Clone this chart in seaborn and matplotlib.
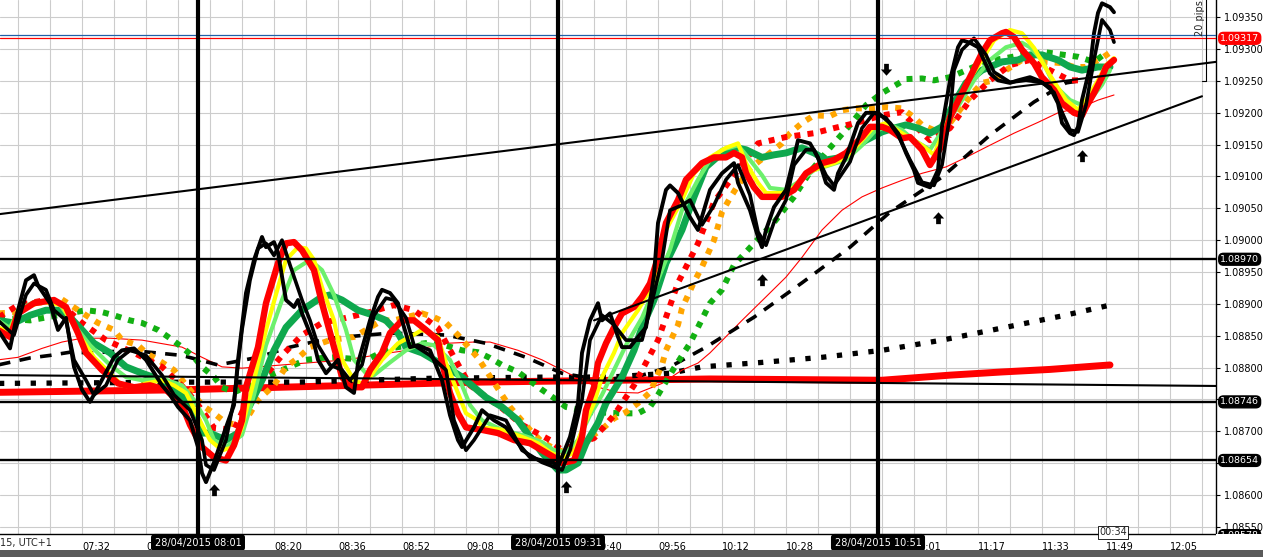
import matplotlib
matplotlib.use("Agg")
import matplotlib.pyplot as plt
import seaborn as sns
from matplotlib.path import Path
from matplotlib.patches import Rectangle

# bar = minutes after 07:00 on 28/04/2015, prices are EUR/USD
fast_bar = [11, 14, 16, 18, 20, 21, 24, 26, 28, 30, 32, 34, 36, 40, 42, 45, 48, 52, 54, 56,
            59, 61, 62, 63, 65, 68, 70, 71, 73, 75, 77, 78, 80, 81, 83, 85, 86, 87, 90, 91,
            93, 96, 98, 100, 101, 104, 106, 107, 109, 111, 112, 114, 116, 119, 122, 124, 126, 127, 130, 132,
            135, 138, 141, 144, 147, 150, 151, 154, 156, 157, 159, 161, 162, 164, 166, 167, 169, 171, 173, 175,
            176, 178, 179, 181, 184, 186, 189, 192, 195, 196, 199, 201, 202, 203, 205, 208, 210, 211, 214, 216,
            218, 220, 221, 223, 226, 228, 231, 234, 236, 238, 240, 241, 244, 246, 247, 249, 251, 252, 254, 256,
            259, 261, 264, 266, 269, 271, 274, 276, 277, 279, 280, 281, 282, 284, 285, 286, 287, 289, 290]
fast_price = [1.08859, 1.08830, 1.08890, 1.08937, 1.08945, 1.08929, 1.08901, 1.08859, 1.08878, 1.08801,
              1.08765, 1.08746, 1.08769, 1.08816, 1.08827, 1.08830, 1.08812, 1.08772, 1.08757, 1.08738,
              1.08717, 1.08675, 1.08634, 1.08620, 1.08651, 1.08706, 1.08741, 1.08812, 1.08917, 1.08969,
              1.09005, 1.08989, 1.08997, 1.08980, 1.08906, 1.08895, 1.08906, 1.08885, 1.08838, 1.08812,
              1.08791, 1.08812, 1.08769, 1.08760, 1.08807, 1.08874, 1.08911, 1.08922, 1.08917, 1.08901,
              1.08874, 1.08832, 1.08835, 1.08827, 1.08780, 1.08725, 1.08686, 1.08675, 1.08706, 1.08733,
              1.08717, 1.08706, 1.08681, 1.08659, 1.08654, 1.08650, 1.08644, 1.08691, 1.08744, 1.08823,
              1.08874, 1.08901, 1.08874, 1.08885, 1.08848, 1.08832, 1.08832, 1.08848, 1.08863, 1.08945,
              1.09027, 1.09079, 1.09086, 1.09074, 1.09036, 1.09016, 1.09079, 1.09105, 1.09121, 1.09090,
              1.09047, 1.09005, 1.08989, 1.09016, 1.09052, 1.09079, 1.09130, 1.09157, 1.09152, 1.09130,
              1.09090, 1.09079, 1.09105, 1.09130, 1.09184, 1.09200, 1.09200, 1.09184, 1.09168, 1.09137,
              1.09110, 1.09090, 1.09083, 1.09110, 1.09178, 1.09251, 1.09303, 1.09314, 1.09310, 1.09303,
              1.09262, 1.09251, 1.09247, 1.09251, 1.09256, 1.09251, 1.09240, 1.09215, 1.09184, 1.09168,
              1.09165, 1.09178, 1.09220, 1.09272, 1.09325, 1.09357, 1.09372, 1.09366, 1.09358]

slow_black_bar = [11, 15, 18, 20, 23, 25, 28, 30, 33, 35, 38, 41, 44, 48, 52, 55, 59, 62, 63, 65,
                  68, 70, 72, 74, 76, 78, 80, 82, 84, 87, 89, 91, 94, 97, 99, 102, 105, 108, 110, 113,
                  115, 119, 123, 125, 128, 130, 134, 138, 142, 147, 152, 154, 157, 159, 162, 165, 168, 172, 174, 177,
                  179, 182, 184, 187, 190, 193, 196, 199, 201, 203, 205, 208, 210, 213, 215, 218, 220, 224, 227, 230,
                  233, 236, 239, 242, 245, 247, 249, 250, 252, 255, 258, 260, 264, 268, 272, 275, 277, 279, 281, 283,
                  285, 287, 289, 290]
slow_black_price = [1.08874, 1.08851, 1.08914, 1.08932, 1.08922, 1.08890, 1.08874, 1.08812, 1.08780, 1.08757,
                    1.08772, 1.08812, 1.08827, 1.08819, 1.08788, 1.08757, 1.08733, 1.08686, 1.08647, 1.08639,
                    1.08686, 1.08749, 1.08859, 1.08937, 1.08987, 1.08995, 1.08976, 1.09000, 1.08961, 1.08906,
                    1.08874, 1.08835, 1.08804, 1.08796, 1.08780, 1.08804, 1.08882, 1.08909, 1.08906, 1.08878,
                    1.08835, 1.08819, 1.08796, 1.08717, 1.08670, 1.08686, 1.08725, 1.08717, 1.08670, 1.08651,
                    1.08639, 1.08670, 1.08749, 1.08843, 1.08882, 1.08867, 1.08843, 1.08843, 1.08890, 1.08969,
                    1.09047, 1.09055, 1.09063, 1.09024, 1.09055, 1.09095, 1.09118, 1.09071, 1.09013, 1.08992,
                    1.09028, 1.09063, 1.09118, 1.09142, 1.09142, 1.09102, 1.09086, 1.09123, 1.09176, 1.09200,
                    1.09192, 1.09165, 1.09126, 1.09091, 1.09086, 1.09118, 1.09196, 1.09267, 1.09299, 1.09317,
                    1.09291, 1.09264, 1.09248, 1.09251, 1.09248, 1.09232, 1.09201, 1.09173, 1.09170, 1.09212,
                    1.09283, 1.09346, 1.09330, 1.09311]

red_bar = [11, 14, 16, 20, 25, 28, 31, 33, 37, 41, 45, 49, 53, 57, 59, 62, 65, 68, 70, 72,
           73, 76, 78, 81, 83, 85, 87, 90, 92, 95, 97, 99, 102, 104, 107, 109, 112, 115, 118, 121,
           122, 124, 126, 128, 132, 136, 140, 144, 147, 150, 152, 155, 157, 158, 160, 161, 163, 165, 167, 170,
           172, 174, 176, 178, 181, 183, 187, 190, 193, 195, 197, 198, 200, 202, 207, 210, 213, 217, 220, 223,
           227, 229, 232, 234, 237, 239, 242, 244, 247, 249, 252, 254, 257, 259, 262, 263, 265, 267, 270, 272,
           275, 277, 280, 282, 283, 285, 287, 288, 290]
red_price = [1.08859, 1.08848, 1.08885, 1.08901, 1.08906, 1.08895, 1.08854, 1.08823, 1.08796, 1.08775,
             1.08769, 1.08772, 1.08765, 1.08741, 1.08710, 1.08675, 1.08659, 1.08654, 1.08678, 1.08717,
             1.08769, 1.08832, 1.08901, 1.08964, 1.08995, 1.08997, 1.08984, 1.08953, 1.08901, 1.08832,
             1.08785, 1.08769, 1.08769, 1.08796, 1.08823, 1.08854, 1.08874, 1.08874, 1.08859, 1.08843,
             1.08807, 1.08760, 1.08728, 1.08706, 1.08702, 1.08697, 1.08686, 1.08681, 1.08670, 1.08659,
             1.08650, 1.08654, 1.08691, 1.08733, 1.08769, 1.08807, 1.08838, 1.08863, 1.08885, 1.08895,
             1.08911, 1.08932, 1.08973, 1.09027, 1.09063, 1.09095, 1.09121, 1.09130, 1.09130, 1.09137,
             1.09130, 1.09105, 1.09083, 1.09068, 1.09068, 1.09079, 1.09105, 1.09121, 1.09126, 1.09137,
             1.09162, 1.09178, 1.09178, 1.09173, 1.09160, 1.09162, 1.09142, 1.09118, 1.09149, 1.09193,
             1.09231, 1.09256, 1.09294, 1.09314, 1.09325, 1.09327, 1.09319, 1.09299, 1.09278, 1.09256,
             1.09236, 1.09215, 1.09200, 1.09196, 1.09209, 1.09231, 1.09256, 1.09272, 1.09283]

yellow_bar = [11, 14, 16, 22, 27, 31, 35, 39, 42, 45, 48, 52, 55, 58, 62, 64, 67, 70, 72, 75,
              78, 81, 83, 86, 88, 90, 92, 95, 97, 100, 102, 104, 107, 111, 114, 117, 121, 123, 126, 128,
              131, 132, 137, 142, 146, 149, 152, 155, 157, 160, 162, 165, 167, 171, 174, 176, 178, 182, 185, 189,
              193, 196, 198, 201, 203, 207, 210, 213, 217, 220, 223, 227, 230, 233, 237, 242, 245, 249, 253, 257,
              260, 264, 267, 270, 274, 278, 281, 283, 286, 288, 290]
yellow_price = [1.08863, 1.08856, 1.08890, 1.08903, 1.08898, 1.08854, 1.08816, 1.08791, 1.08772, 1.08769,
                1.08775, 1.08780, 1.08772, 1.08760, 1.08710, 1.08686, 1.08670, 1.08675, 1.08706, 1.08780,
                1.08859, 1.08926, 1.08969, 1.08989, 1.08987, 1.08969, 1.08926, 1.08874, 1.08812, 1.08780,
                1.08775, 1.08785, 1.08812, 1.08838, 1.08848, 1.08859, 1.08848, 1.08807, 1.08760, 1.08728,
                1.08717, 1.08706, 1.08702, 1.08691, 1.08681, 1.08667, 1.08658, 1.08666, 1.08702, 1.08744,
                1.08785, 1.08823, 1.08854, 1.08890, 1.08922, 1.08953, 1.09016, 1.09063, 1.09105, 1.09130,
                1.09145, 1.09152, 1.09121, 1.09090, 1.09074, 1.09074, 1.09083, 1.09105, 1.09115, 1.09121,
                1.09130, 1.09157, 1.09178, 1.09184, 1.09168, 1.09149, 1.09134, 1.09196, 1.09244, 1.09283,
                1.09314, 1.09330, 1.09325, 1.09302, 1.09259, 1.09220, 1.09205, 1.09220, 1.09251, 1.09275,
                1.09286]

lime_bar = [11, 14, 16, 20, 26, 30, 34, 39, 43, 47, 52, 57, 60, 63, 65, 68, 72, 75, 78, 82,
            85, 89, 92, 95, 98, 100, 103, 105, 109, 113, 117, 120, 124, 127, 129, 132, 137, 142, 147, 150,
            153, 156, 159, 162, 165, 168, 172, 175, 179, 182, 186, 189, 192, 196, 199, 202, 204, 208, 212, 215,
            219, 223, 227, 230, 234, 237, 240, 244, 248, 252, 255, 259, 263, 267, 269, 272, 275, 279, 282, 284,
            287, 289]
lime_price = [1.08874, 1.08862, 1.08890, 1.08903, 1.08903, 1.08867, 1.08835, 1.08804, 1.08785, 1.08780,
              1.08783, 1.08772, 1.08749, 1.08717, 1.08686, 1.08675, 1.08694, 1.08757, 1.08835, 1.08906,
              1.08953, 1.08969, 1.08953, 1.08914, 1.08859, 1.08812, 1.08791, 1.08788, 1.08808, 1.08827,
              1.08838, 1.08835, 1.08812, 1.08772, 1.08741, 1.08717, 1.08702, 1.08694, 1.08683, 1.08670,
              1.08667, 1.08686, 1.08725, 1.08757, 1.08796, 1.08835, 1.08878, 1.08922, 1.08985, 1.09047,
              1.09095, 1.09126, 1.09142, 1.09149, 1.09126, 1.09102, 1.09082, 1.09079, 1.09095, 1.09110,
              1.09118, 1.09126, 1.09149, 1.09170, 1.09181, 1.09173, 1.09157, 1.09142, 1.09181, 1.09220,
              1.09251, 1.09283, 1.09303, 1.09310, 1.09303, 1.09283, 1.09244, 1.09220, 1.09212, 1.09220,
              1.09244, 1.09267]

green_bar = [11, 15, 19, 23, 27, 29, 32, 35, 39, 43, 47, 52, 56, 58, 61, 62, 64, 68, 71, 73,
             77, 80, 83, 87, 92, 94, 97, 101, 105, 108, 111, 113, 117, 120, 123, 127, 130, 133, 137, 141,
             144, 147, 151, 153, 156, 158, 161, 163, 167, 170, 172, 175, 178, 182, 185, 188, 192, 195, 198, 202,
             205, 208, 212, 215, 218, 222, 225, 228, 232, 235, 238, 241, 244, 247, 250, 253, 257, 262, 266, 269,
             272, 276, 279, 282, 286, 289]
green_price = [1.08874, 1.08870, 1.08882, 1.08890, 1.08890, 1.08879, 1.08859, 1.08838, 1.08823, 1.08801,
               1.08791, 1.08780, 1.08761, 1.08749, 1.08717, 1.08697, 1.08697, 1.08686, 1.08697, 1.08728,
               1.08780, 1.08827, 1.08863, 1.08890, 1.08911, 1.08914, 1.08906, 1.08890, 1.08882, 1.08874,
               1.08854, 1.08832, 1.08823, 1.08812, 1.08801, 1.08785, 1.08769, 1.08753, 1.08738, 1.08717,
               1.08691, 1.08666, 1.08639, 1.08639, 1.08650, 1.08681, 1.08713, 1.08744, 1.08785, 1.08827,
               1.08863, 1.08906, 1.08964, 1.09016, 1.09068, 1.09115, 1.09137, 1.09146, 1.09142, 1.09130,
               1.09134, 1.09137, 1.09145, 1.09137, 1.09126, 1.09130, 1.09145, 1.09157, 1.09170, 1.09176,
               1.09181, 1.09176, 1.09168, 1.09178, 1.09215, 1.09247, 1.09267, 1.09280, 1.09283, 1.09291,
               1.09291, 1.09283, 1.09272, 1.09267, 1.09272, 1.09272]

green_dot_bar = [11, 19, 26, 33, 37, 40, 44, 47, 51, 54, 57, 60, 62, 65, 67, 70, 74, 78, 81, 85,
                 88, 92, 95, 103, 109, 114, 120, 127, 131, 134, 137, 141, 147, 150, 153, 159, 167, 171, 174, 176,
                 180, 184, 189, 192, 195, 200, 205, 210, 214, 219, 224, 228, 232, 238, 242, 245, 249, 252, 256, 260,
                 263, 267, 273, 281, 285, 288]
green_dot_price = [1.08878, 1.08874, 1.08882, 1.08890, 1.08887, 1.08882, 1.08874, 1.08870, 1.08859, 1.08846,
                   1.08832, 1.08816, 1.08801, 1.08785, 1.08769, 1.08761, 1.08772, 1.08785, 1.08793, 1.08804,
                   1.08812, 1.08815, 1.08816, 1.08812, 1.08830, 1.08835, 1.08840, 1.08827, 1.08824, 1.08815,
                   1.08804, 1.08793, 1.08765, 1.08752, 1.08738, 1.08730, 1.08728, 1.08728, 1.08738, 1.08757,
                   1.08799, 1.08838, 1.08901, 1.08922, 1.08961, 1.08995, 1.09028, 1.09068, 1.09107, 1.09145,
                   1.09181, 1.09212, 1.09231, 1.09253, 1.09254, 1.09251, 1.09256, 1.09264, 1.09275, 1.09283,
                   1.09286, 1.09291, 1.09295, 1.09288, 1.09280, 1.09294]

orange_dot_bar = [11, 16, 20, 23, 27, 33, 36, 40, 42, 46, 48, 52, 55, 59, 62, 65, 68, 71, 74, 76,
                  80, 83, 86, 89, 94, 100, 107, 110, 113, 117, 120, 123, 126, 131, 137, 139, 144, 147, 150, 153,
                  158, 162, 165, 168, 171, 174, 177, 178, 181, 182, 185, 187, 190, 192, 194, 196, 199, 204, 207, 209,
                  212, 215, 219, 222, 225, 229, 233, 237, 240, 242, 246, 249, 252, 255, 257, 260, 263, 267, 270, 273,
                  277, 280, 283, 287, 290]
orange_dot_price = [1.08885, 1.08887, 1.08901, 1.08903, 1.08907, 1.08882, 1.08870, 1.08859, 1.08843, 1.08835,
                    1.08823, 1.08808, 1.08796, 1.08765, 1.08741, 1.08728, 1.08713, 1.08710, 1.08728, 1.08749,
                    1.08772, 1.08801, 1.08815, 1.08832, 1.08843, 1.08848, 1.08874, 1.08874, 1.08879, 1.08885,
                    1.08879, 1.08870, 1.08851, 1.08815, 1.08757, 1.08738, 1.08702, 1.08683, 1.08673, 1.08666,
                    1.08686, 1.08703, 1.08720, 1.08730, 1.08744, 1.08761, 1.08804, 1.08827, 1.08867, 1.08893,
                    1.08934, 1.08958, 1.09000, 1.09044, 1.09066, 1.09086, 1.09113, 1.09137, 1.09152, 1.09168,
                    1.09184, 1.09196, 1.09195, 1.09204, 1.09207, 1.09207, 1.09209, 1.09207, 1.09193, 1.09181,
                    1.09170, 1.09184, 1.09209, 1.09233, 1.09247, 1.09251, 1.09267, 1.09283, 1.09286, 1.09280,
                    1.09278, 1.09272, 1.09272, 1.09286, 1.09299]

red_dot_bar = [11, 16, 23, 27, 32, 38, 45, 52, 58, 62, 65, 70, 74, 78, 82, 87, 92, 98, 104, 110,
               115, 121, 125, 129, 137, 142, 149, 152, 157, 160, 165, 170, 176, 181, 186, 190, 195, 201, 208, 215,
               220, 226, 232, 237, 240, 244, 249, 254, 259, 264, 269, 274, 279, 284, 289]
red_dot_price = [1.08878, 1.08898, 1.08906, 1.08898, 1.08870, 1.08843, 1.08823, 1.08801, 1.08765, 1.08733,
                 1.08705, 1.08702, 1.08757, 1.08788, 1.08819, 1.08851, 1.08870, 1.08878, 1.08887, 1.08898,
                 1.08890, 1.08862, 1.08816, 1.08772, 1.08736, 1.08710, 1.08686, 1.08670, 1.08683, 1.08689,
                 1.08725, 1.08772, 1.08843, 1.08933, 1.08995, 1.09060, 1.09102, 1.09152, 1.09162, 1.09168,
                 1.09176, 1.09185, 1.09196, 1.09201, 1.09181, 1.09157, 1.09176, 1.09220, 1.09251, 1.09275,
                 1.09283, 1.09267, 1.09251, 1.09251, 1.09259]

dash_bar = [11, 19, 24, 29, 35, 44, 57, 66, 76, 84, 94, 109, 123, 133, 143, 152, 162, 172, 179, 188,
            200, 212, 224, 234, 247, 259, 270, 278, 282]
dash_price = [1.08804, 1.08815, 1.08819, 1.08824, 1.08823, 1.08827, 1.08819, 1.08804, 1.08816, 1.08832,
              1.08846, 1.08854, 1.08851, 1.08838, 1.08816, 1.08791, 1.08780, 1.08788, 1.08801, 1.08832,
              1.08879, 1.08933, 1.08989, 1.09044, 1.09099, 1.09165, 1.09217, 1.09247, 1.09251]

thin_red_bar = [11, 16, 22, 27, 32, 39, 47, 57, 62, 67, 72, 82, 90, 98, 110, 117, 123, 130, 134, 141,
                147, 152, 157, 161, 166, 171, 177, 182, 186, 189, 197, 203, 208, 212, 217, 222, 227, 232, 237, 242,
                248, 253, 258, 265, 271, 276, 282, 286, 290]
thin_red_price = [1.08812, 1.08816, 1.08830, 1.08840, 1.08846, 1.08846, 1.08843, 1.08832, 1.08816, 1.08801,
                  1.08799, 1.08804, 1.08808, 1.08812, 1.08824, 1.08830, 1.08838, 1.08840, 1.08840, 1.08827,
                  1.08812, 1.08796, 1.08780, 1.08769, 1.08761, 1.08760, 1.08775, 1.08796, 1.08807, 1.08823,
                  1.08874, 1.08911, 1.08942, 1.08973, 1.09016, 1.09047, 1.09068, 1.09082, 1.09094, 1.09105,
                  1.09115, 1.09130, 1.09146, 1.09168, 1.09185, 1.09200, 1.09209, 1.09220, 1.09228]

slow_dot_bar = [11, 59, 86, 119, 149, 164, 179, 187, 202, 217, 232, 247, 262, 277, 289]
slow_dot_price = [1.08775, 1.08777, 1.08777, 1.08783, 1.08785, 1.08785, 1.08791, 1.08801, 1.08808, 1.08816,
                  1.08827, 1.08843, 1.08862, 1.08881, 1.08898]

ma_bar = [11, 57, 131, 189, 232, 249, 262, 274, 289]
ma_price = [1.08761, 1.08765, 1.08777, 1.08782, 1.08780, 1.08788, 1.08793, 1.08797, 1.08804]

# drawn objects
level_prices = [1.08970, 1.08746, 1.08654]
upper_trend_bar, upper_trend_price = [11.5, 315.5], [1.09041, 1.09280]
lower_trend_bar, lower_trend_price = [160, 312], [1.08874, 1.09226]
flat_trend_bar, flat_trend_price = [11.5, 315.5], [1.08788, 1.08771]
bid_price, ask_price = 1.09317, 1.09322
marker_bars = [61, 151, 231]
marker_labels = ["28/04/2015 08:01", "28/04/2015 09:31", "28/04/2015 10:51"]
up_arrow_bar = [65, 153, 202, 246, 282]
up_arrow_price = [1.08607, 1.08612, 1.08937, 1.09035, 1.09132]
down_arrow_bar, down_arrow_price = [233], [1.09269]
pips_bar, pips_top, pips_bottom = 313, 1.09450, 1.09250

tick_bars = [32, 48, 64, 80, 96, 112, 128, 144, 160, 176, 192, 208, 224, 240, 256, 272, 288, 304]
tick_labels = ["07:32", "07:48", "", "08:20", "08:36", "08:52", "09:08", "", "09:40",
               "09:56", "10:12", "10:28", "", "11:01", "11:17", "11:33", "11:49", "12:05"]
price_ticks = [1.0855, 1.0860, 1.0865, 1.0870, 1.0875, 1.0880, 1.0885, 1.0890, 1.0895,
               1.0900, 1.0905, 1.0910, 1.0915, 1.0920, 1.0925, 1.0930, 1.0935]
hidden_price_ticks = [1.0865, 1.0875]   # covered by the level tags

sns.set_style("white")
plt.rcParams['font.family'] = ['DejaVu Sans']

fig = plt.figure(figsize=(12.63, 5.57), dpi=100)
ax = fig.add_axes([0, 23 / 557, 1216 / 1263, 534 / 557])


def draw(x, y, color, lw, z, ls='-'):
    sns.lineplot(x=x, y=y, ax=ax, color=color, linewidth=lw, linestyle=ls,
                 zorder=z, estimator=None, errorbar=None, sort=False)


dots = (0, (1, 1.2))
draw(ma_bar, ma_price, '#ff0000', 5, 3)
draw(slow_dot_bar, slow_dot_price, 'black', 3.8, 3, (0, (1, 2)))
draw(thin_red_bar, thin_red_price, '#ff0000', 0.8, 4)
draw(dash_bar, dash_price, 'black', 2.6, 4, (0, (3.2, 2.6)))
draw(green_dot_bar, green_dot_price, '#12b012', 4.3, 5, dots)
draw(orange_dot_bar, orange_dot_price, '#ffa500', 4.3, 5, dots)
draw(red_dot_bar, red_dot_price, '#ff0000', 4.3, 5, dots)
draw(green_bar, green_price, '#0fa84e', 5, 6)
draw(lime_bar, lime_price, '#6cf06c', 3, 7)
draw(yellow_bar, yellow_price, '#ffff00', 3, 8)
draw(red_bar, red_price, '#ff0000', 4.6, 9)
draw(slow_black_bar, slow_black_price, 'black', 2.6, 10)
draw(fast_bar, fast_price, 'black', 2.8, 10)

for p in level_prices:
    ax.axhline(p, color='black', lw=1.7, zorder=11)
ax.axhline(ask_price, color='#1f5fa8', lw=0.9, zorder=11)
ax.axhline(bid_price, color='#ff0000', lw=0.9, zorder=11)
for bx, py in [(upper_trend_bar, upper_trend_price), (lower_trend_bar, lower_trend_price),
               (flat_trend_bar, flat_trend_price)]:
    ax.plot(bx, py, color='black', lw=1.5, zorder=11)

for b, lab in zip(marker_bars, marker_labels):
    ax.axvline(b, color='black', lw=3, zorder=14)
    ax.text(b, -0.016, lab, transform=ax.get_xaxis_transform(), ha='center', va='center',
            color='white', fontsize=7, zorder=20, clip_on=False,
            bbox=dict(boxstyle='round,pad=0.3,rounding_size=0.3', fc='black', ec='black'))

up_path = Path([(-1, 0), (0, 1.1), (1, 0), (0.42, 0), (0.42, -1), (-0.42, -1), (-0.42, 0), (-1, 0)], closed=True)
down_path = Path([(-1, 0), (0, -1.1), (1, 0), (0.42, 0), (0.42, 1), (-0.42, 1), (-0.42, 0), (-1, 0)], closed=True)
sns.scatterplot(x=up_arrow_bar, y=up_arrow_price, ax=ax, marker=up_path, s=80, color='black',
                linewidth=0, zorder=15)
sns.scatterplot(x=down_arrow_bar, y=down_arrow_price, ax=ax, marker=down_path, s=80, color='black',
                linewidth=0, zorder=15)

# 20 pips ruler
ax.plot([pips_bar, pips_bar], [pips_top, pips_bottom], color='black', lw=0.8, zorder=12)
ax.plot([pips_bar - 1, pips_bar], [pips_bottom, pips_bottom], color='black', lw=0.8, zorder=12)
ax.text(pips_bar - 1.6, 1.09349, "20 pips", rotation=90, ha='center', va='center', fontsize=7, zorder=12)

ax.text(289.75, 1.08541, "00:34", ha='center', va='center', fontsize=7, zorder=20,
        bbox=dict(boxstyle='square,pad=0.15', fc='white', ec='black', lw=0.6))

ax.set_xlim(11.5, 315.5)
ax.set_ylim(1.085385, 1.093772)
ax.set_xticks(tick_bars)
ax.set_xticklabels(tick_labels)
ax.set_xticks(range(16, 316, 8), minor=True)
for lbl in ax.get_xticklabels():
    lbl.set_ha('left')
ax.yaxis.tick_right()
ax.set_yticks(price_ticks)
ax.set_yticklabels(["" if p in hidden_price_ticks else f"{p:.5f}" for p in price_ticks])
ax.tick_params(axis='x', which='major', direction='out', length=3, pad=3, labelsize=7, colors='black')
ax.tick_params(axis='x', which='minor', length=0)
ax.tick_params(axis='y', direction='out', length=3, pad=3, labelsize=7, colors='black')
ax.grid(True, which='both', color='#cccccc', lw=0.8)
ax.set_axisbelow(True)
ax.set_xlabel('')
ax.set_ylabel('')
for side in ['left', 'top']:
    ax.spines[side].set_visible(False)
for side in ['right', 'bottom']:
    ax.spines[side].set_color('black')
    ax.spines[side].set_linewidth(1)

tags = [(bid_price, '1.09317', '#ff0000'), (1.08970, '1.08970', 'black'),
        (1.08746, '1.08746', 'black'), (1.08654, '1.08654', 'black'), (1.08536, '1.08578', 'black')]
for p, txt, c in tags:
    ax.annotate(txt, xy=(1.0, p), xycoords=ax.get_yaxis_transform(), xytext=(3, 0),
                textcoords='offset points', ha='left', va='center', color='white', fontsize=6.8,
                zorder=20, annotation_clip=False,
                bbox=dict(boxstyle='round,pad=0.15,rounding_size=0.5', fc=c, ec=c))

fig.add_artist(Rectangle((1216 / 1263, 7 / 557), 1 - 1216 / 1263, 16 / 557, transform=fig.transFigure,
                         fc='white', ec='none', zorder=5))
fig.add_artist(Rectangle((0, 0), 1, 7 / 557, transform=fig.transFigure, fc='#5a5a5a', ec='none', zorder=5))
fig.text(0.0, 14 / 557, "15, UTC+1", ha='left', va='center', fontsize=7)

fig.savefig("out.png", dpi=100)
